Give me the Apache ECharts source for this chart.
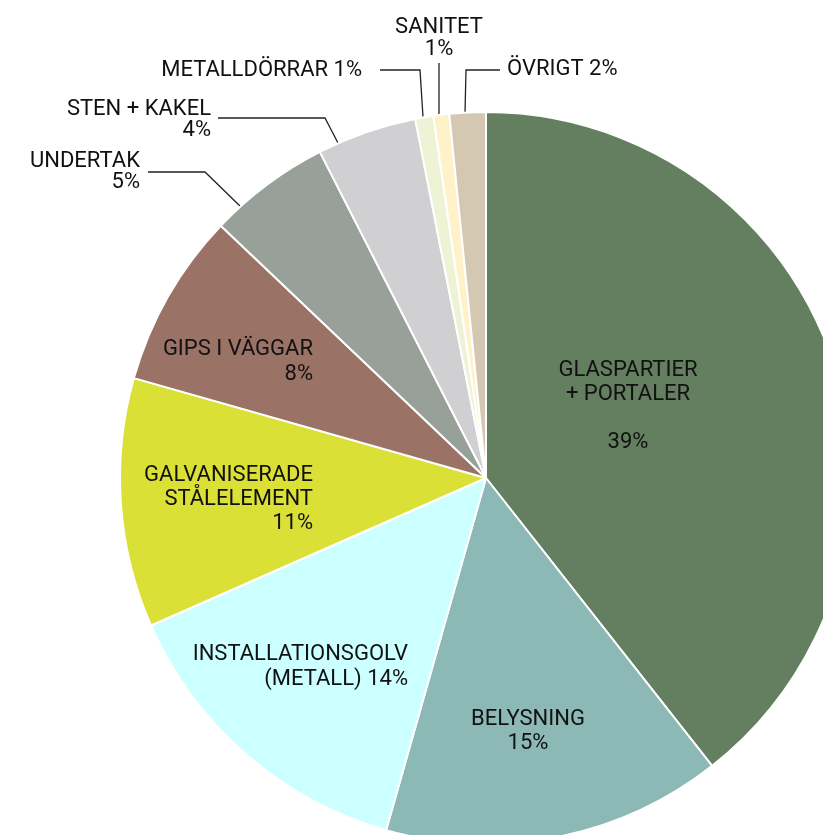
<!DOCTYPE html>
<html>
<head>
<meta charset="utf-8">
<script src="https://cdn.jsdelivr.net/npm/echarts/dist/echarts.min.js"></script>
<style>
    html, body { margin: 0; padding: 0; background: #fff; }
    #chart { width: 823px; height: 835px; }
</style>
</head>
<body>
<div id="chart"></div>
<script>
    // andel per materialgrupp, medurs från klockan tolv
    const categories = [
        'GLASPARTIER\n+ PORTALER',
        'BELYSNING',
        'INSTALLATIONSGOLV\n(METALL)',
        'GALVANISERADE\nSTÅLELEMENT',
        'GIPS I VÄGGAR',
        'UNDERTAK',
        'STEN + KAKEL',
        'METALLDÖRRAR',
        'SANITET',
        'ÖVRIGT'
    ];
    const shares = [39.4, 15, 14, 11, 7.7, 5.4, 4.4, 0.8, 0.7, 1.6];
    const colors = ['#637f5f', '#8cb9b5', '#ccffff', '#dbe036', '#9a7366',
                    '#97a199', '#d0cfd1', '#eff3d5', '#fff2c8', '#d5c8b3'];

    const CX = 486, CY = 478, R = 366;

    // label placement: anchor, alignment, separator before percent, leader line (from pie edge)
    const placements = [
        { x: 628, y: 406, align: 'center', sep: '\n\n', lh: 24 },
        { x: 528, y: 731, align: 'center', sep: '\n', lh: 24 },
        { x: 408, y: 667, align: 'right', sep: ' ', lh: 25 },
        { x: 313, y: 499, align: 'right', sep: '\n', lh: 24 },
        { x: 313, y: 362, align: 'right', sep: '\n', lh: 25 },
        { x: 140, y: 172, align: 'right', sep: '\n', lh: 21, line: [[241, 207], [205, 172], [148, 172]] },
        { x: 211, y: 120, align: 'right', sep: '\n', lh: 21, line: [[338, 143], [325, 118], [218, 118]] },
        { x: 362, y: 70, align: 'right', sep: ' ', lh: 21, line: [[423, 117], [420, 70], [380, 70]] },
        { x: 439, y: 38, align: 'center', sep: '\n', lh: 22, line: [[439, 115], [439, 63]] },
        { x: 507, y: 69, align: 'left', sep: ' ', lh: 21, line: [[465, 113], [466, 70], [500, 70]] }
    ];

    const myChart = echarts.init(document.getElementById('chart'));

    const data = categories.map(function (name, i) {
        const p = placements[i];
        return {
            name: name,
            value: shares[i],
            itemStyle: { color: colors[i] },
            label: {
                position: p.line ? 'outside' : 'inside',
                lineHeight: p.lh
            },
            labelLine: { show: !!p.line }
        };
    });

    myChart.setOption({
        animation: false,
        series: [{
            type: 'pie',
            center: [CX, CY],
            radius: [0, R],
            startAngle: 90,
            clockwise: true,
            avoidLabelOverlap: false,
            silent: true,
            itemStyle: {
                borderColor: '#fff',
                borderWidth: 2
            },
            label: {
                show: true,
                color: '#111',
                fontFamily: 'Roboto',
                fontSize: 22,
                formatter: function (params) {
                    return params.name + placements[params.dataIndex].sep + Math.round(params.percent) + '%';
                }
            },
            labelLine: {
                lineStyle: { color: '#222', width: 1.3 }
            },
            labelLayout: function (params) {
                const p = placements[params.dataIndex];
                const out = { x: p.x, y: p.y, align: p.align, verticalAlign: 'middle' };
                if (p.line) {
                    out.labelLinePoints = p.line;
                }
                return out;
            },
            data: data
        }]
    });
</script>
</body>
</html>
